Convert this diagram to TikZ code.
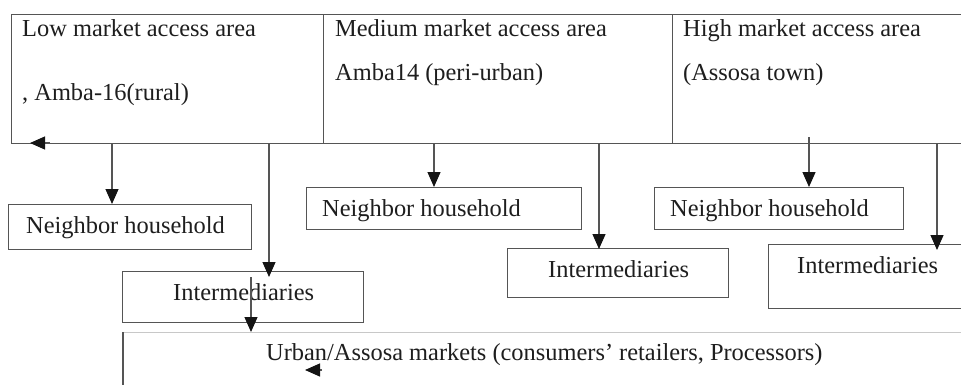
\documentclass[tikz,border=0pt]{standalone}
\usepackage{fontspec}
\setmainfont{Liberation Serif}
\usetikzlibrary{arrows.meta}
\definecolor{linec}{RGB}{85,85,85}
\definecolor{lightline}{RGB}{200,200,200}
\definecolor{textc}{RGB}{30,30,30}
\definecolor{headc}{RGB}{20,20,20}
\begin{document}
\begin{tikzpicture}[x=1pt,y=-1pt,
  box/.style={draw=linec, line width=1.2pt, rectangle, inner sep=0pt, anchor=north west},
  txt/.style={text=textc, inner sep=0pt, anchor=base west, font=\fontsize{24.4}{28}\selectfont},
  arr/.style={draw=linec, line width=1.2pt, -{Triangle[length=15pt,width=13pt,color=headc]}}
]
\useasboundingbox (0,0) rectangle (961,384);
\fill[white] (0,0) rectangle (961,384);
\clip (0,0) rectangle (961,384);

% top row cells
\node[box, minimum width=312pt, minimum height=129pt] (c1) at (11,14) {};
\node[box, minimum width=349pt, minimum height=129pt] (c2) at (323,14) {};
\node[box, minimum width=320pt, minimum height=129pt] (c3) at (672,14) {};
\node[txt] (t1a) at (22,36) {Low market access area};
\node[txt] (t1b) at (22,100) {, Amba-16(rural)};
\node[txt] (t2a) at (335,36) {Medium market access area};
\node[txt] (t2b) at (335,80) {Amba14 (peri-urban)};
\node[txt] (t3a) at (683,36) {High market access area};
\node[txt] (t3b) at (683,80) {(Assosa town)};

% neighbor households
\node[box, minimum width=243pt, minimum height=45pt] (nb1) at (8,204) {};
\node[txt] at (26,233) {Neighbor household};
\node[box, minimum width=275pt, minimum height=42pt] (nb2) at (306,187) {};
\node[txt] at (322,216) {Neighbor household};
\node[box, minimum width=249pt, minimum height=42pt] (nb3) at (654,187) {};
\node[txt] at (670,216) {Neighbor household};

% intermediaries
\node[box, minimum width=241pt, minimum height=51pt] (in1) at (122,271) {};
\node[txt] at (173,300) {Intermediaries};
\node[box, minimum width=221pt, minimum height=49pt] (in2) at (507,248) {};
\node[txt] at (548,277) {Intermediaries};
\node[box, minimum width=220pt, minimum height=64pt] (in3) at (768,244) {};
\node[txt] at (797,273) {Intermediaries};

% urban markets
\node[box, draw=lightline, minimum width=860pt, minimum height=80pt] (urb) at (123,332) {};
\draw[linec, line width=1.2pt] (urb.north west) -- (urb.south west);
\node[txt] (ut) at (266,360) {Urban/Assosa markets (consumers’ retailers, Processors)};

% connector coordinates
\coordinate (l0) at (50,143);
\coordinate (l1) at (30,143);
\coordinate (a1) at (112,143);
\coordinate (a2) at (269,143);
\coordinate (a3) at (251,277);
\coordinate (s0) at (322,370);
\coordinate (s1) at (305,370);
\coordinate (a4) at (434,143);
\coordinate (a5) at (599,143);
\coordinate (a6) at (809,137);
\coordinate (a7) at (937,143);
\coordinate (e2) at (269,277);
\coordinate (e3) at (251,332);
\coordinate (e5) at (599,249);
\coordinate (e7) at (937,250);

\draw[arr] (l0) -- (l1);
\draw[arr] (a1) -- (a1 |- nb1.north);
\draw[arr] (a2) -- (e2);
\draw[arr] (a3) -- (e3);
\draw[arr] (s0) -- (s1);
\draw[arr] (a4) -- (a4 |- nb2.north);
\draw[arr] (a5) -- (e5);
\draw[arr] (a6) -- (a6 |- nb3.north);
\draw[arr] (a7) -- (e7);
\end{tikzpicture}
\end{document}
